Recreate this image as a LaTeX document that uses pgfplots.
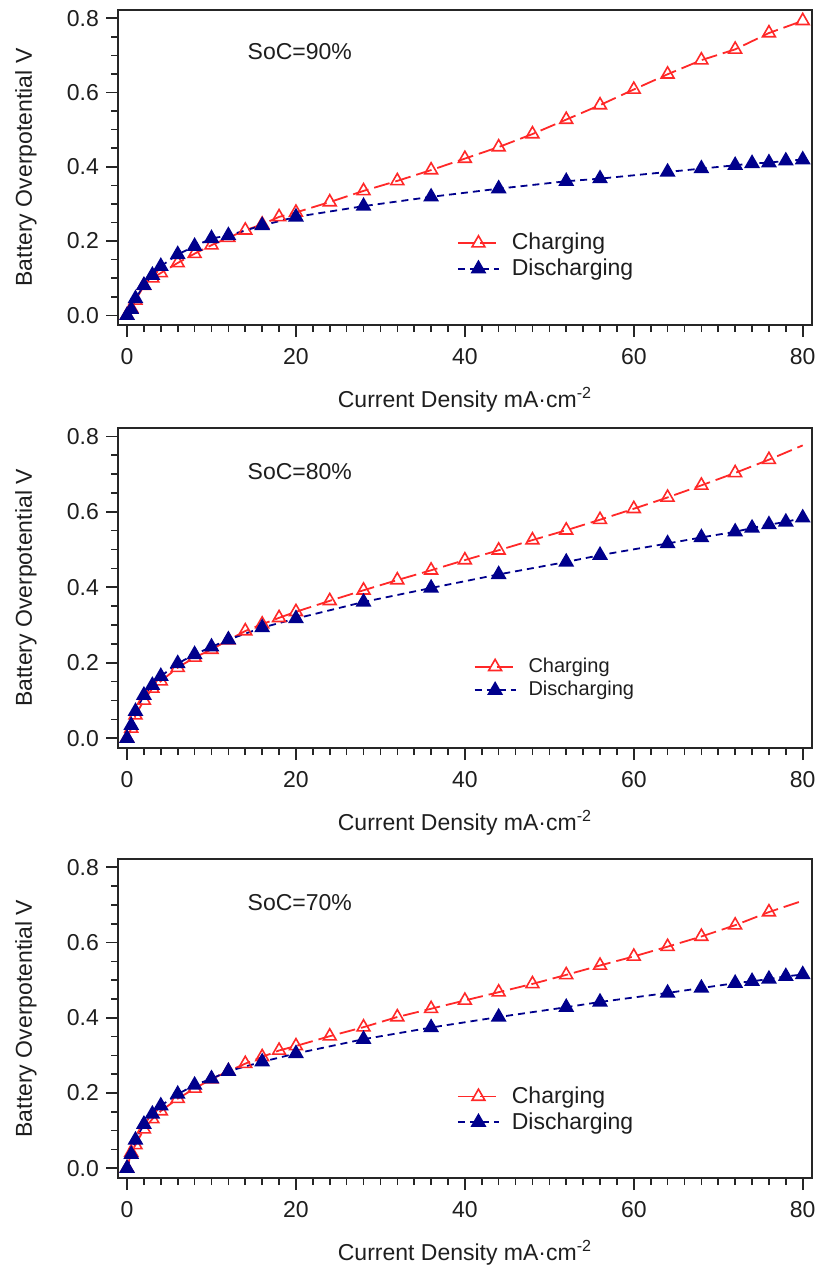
\documentclass[border=0pt]{standalone}
\usepackage{fontspec}
\setmainfont{Liberation Sans}
\usepackage{pgfplots}
\pgfplotsset{compat=1.18}
\definecolor{cred}{RGB}{255,40,40}
\definecolor{cnavy}{RGB}{0,0,140}
\definecolor{ctext}{RGB}{30,30,30}
\pgfplotsset{
  panel/.style={
    scale only axis, width=347pt,
    xmin=-1.07, xmax=81.1, ymin=-0.026, ymax=0.822,
    xtick={0,20,...,80}, minor x tick num=9,
    ytick={0,0.2,0.4,0.6,0.8}, minor y tick num=3,
    xtick pos=bottom, ytick pos=left, tick align=outside,
    major tick length=6pt, minor tick length=3.5pt,
    every tick/.style={black!85, line width=0.8pt},
    axis line style={line width=1.1pt, black!85},
    /pgf/number format/assume math mode=true,
    y tick label style={/pgf/number format/.cd, fixed, fixed zerofill, precision=1, /tikz/.cd},
    tick label style={font=\fontsize{11.5}{13}\selectfont, text=ctext},
    xticklabel style={yshift=-2pt},
    label style={font=\fontsize{11.5}{13}\selectfont, text=ctext},
    xlabel={Current Density mA·cm\textsuperscript{-2}},
    ylabel={Battery Overpotential V},
    xlabel style={at={(axis description cs:0.5,0)}, anchor=base, yshift=-41pt},
    ylabel style={at={(axis description cs:-0.1326,0.5)}, anchor=center},
    legend cell align=left,
    legend image code/.code={\draw[##1, mark indices={2}] plot coordinates {(0cm,0cm) (0.36cm,0cm) (0.72cm,0cm)};},
    legend style={draw=none, fill=none, anchor=north west, inner sep=0pt,
      font=\fontsize{11.5}{13}\selectfont, text=ctext, row sep=-1pt,
      /tikz/every odd column/.append style={column sep=4pt}},
  },
  chg/.style={color=cred, line width=0.9pt, dash pattern=on 8pt off 3pt,
    mark=triangle, mark size=3.7pt, mark options={solid, line width=0.8pt}},
  dis/.style={color=cnavy, line width=0.9pt, dash pattern=on 3.5pt off 2.5pt,
    mark=triangle*, mark size=3.7pt, mark options={solid, fill=cnavy}},
}
\begin{document}
\begin{tikzpicture}
% ---------------- SoC = 90% ----------------
\begin{axis}[panel, at={(59pt,-5pt)}, anchor=north west, height=157.5pt,
  legend style={at={(axis description cs:0.488,0.305)}}]
\addplot[chg] coordinates {
(0,0) (0.5,0.019) (1,0.04) (2,0.08) (3,0.10) (4,0.114) (6,0.141) (8,0.166)
(10,0.189) (12,0.209) (14,0.229) (16,0.245) (18,0.265) (20,0.277) (24,0.305)
(28,0.335) (32,0.362) (36,0.391) (40,0.422) (44,0.453) (48,0.488) (52,0.527)
(56,0.566) (60,0.608) (64,0.649) (68,0.687) (72,0.716) (76,0.760) (80,0.793)};
\addlegendentry{Charging}
\addplot[dis] coordinates {
(0,0) (0.5,0.016) (1,0.045) (2,0.081) (3,0.108) (4,0.132) (6,0.164) (8,0.186)
(10,0.207) (12,0.215) (16,0.242) (20,0.265) (28,0.294) (36,0.319) (44,0.341)
(52,0.361) (56,0.368) (64,0.386) (68,0.395) (72,0.404) (74,0.409) (76,0.411)
(78,0.416) (80,0.419)};
\addlegendentry{Discharging}
\node[font=\fontsize{11.5}{13}\selectfont, text=ctext] at (axis description cs:0.262,0.867) {SoC=90\%};
\end{axis}
% ---------------- SoC = 80% ----------------
\begin{axis}[panel, at={(59pt,-214pt)}, anchor=north west, height=160pt,
  legend style={at={(axis description cs:0.512,0.295)}, font=\fontsize{10}{12}\selectfont}]
\addplot[chg, mark indices={1,...,28}] coordinates {
(0,0) (0.5,0.026) (1,0.061) (2,0.10) (3,0.132) (4,0.151) (6,0.187) (8,0.214)
(10,0.235) (12,0.26) (14,0.284) (16,0.302) (18,0.319) (20,0.335) (24,0.364)
(28,0.392) (32,0.419) (36,0.445) (40,0.472) (44,0.498) (48,0.525) (52,0.551)
(56,0.579) (60,0.608) (64,0.638) (68,0.670) (72,0.703) (76,0.738) (80,0.776)};
\addlegendentry{Charging}
\addplot[dis] coordinates {
(0,0) (0.5,0.034) (1,0.071) (2,0.114) (3,0.14) (4,0.164) (6,0.198) (8,0.222)
(10,0.242) (12,0.261) (16,0.293) (20,0.317) (28,0.361) (36,0.398) (44,0.434)
(52,0.467) (56,0.485) (64,0.516) (68,0.532) (72,0.547) (74,0.557) (76,0.566)
(78,0.573) (80,0.584)};
\addlegendentry{Discharging}
\node[font=\fontsize{11.5}{13}\selectfont, text=ctext] at (axis description cs:0.262,0.8625) {SoC=80\%};
\end{axis}
% ---------------- SoC = 70% ----------------
\begin{axis}[panel, at={(59pt,-429.5pt)}, anchor=north west, height=159.5pt,
  legend style={at={(axis description cs:0.488,0.30)}}]
\addplot[chg, mark indices={1,...,28}] coordinates {
(0,0) (0.5,0.042) (1,0.062) (2,0.104) (3,0.131) (4,0.152) (6,0.185) (8,0.212)
(10,0.237) (12,0.258) (14,0.278) (16,0.296) (18,0.313) (20,0.325) (24,0.351)
(28,0.375) (32,0.402) (36,0.424) (40,0.446) (44,0.468) (48,0.49) (52,0.514)
(56,0.539) (60,0.563) (64,0.589) (68,0.616) (72,0.646) (76,0.681) (80,0.711)};
\addlegendentry{Charging}
\addplot[dis] coordinates {
(0,0) (0.5,0.037) (1,0.075) (2,0.117) (3,0.144) (4,0.166) (6,0.197) (8,0.221)
(10,0.238) (12,0.258) (16,0.283) (20,0.305) (28,0.343) (36,0.374) (44,0.402)
(52,0.428) (56,0.442) (64,0.466) (68,0.479) (72,0.492) (74,0.497) (76,0.503)
(78,0.51) (80,0.515)};
\addlegendentry{Discharging}
\node[font=\fontsize{11.5}{13}\selectfont, text=ctext] at (axis description cs:0.262,0.862) {SoC=70\%};
\end{axis}
\pgfresetboundingbox
\path[use as bounding box] (0pt,0pt) rectangle (410.5pt,-634pt);
\end{tikzpicture}
\end{document}
